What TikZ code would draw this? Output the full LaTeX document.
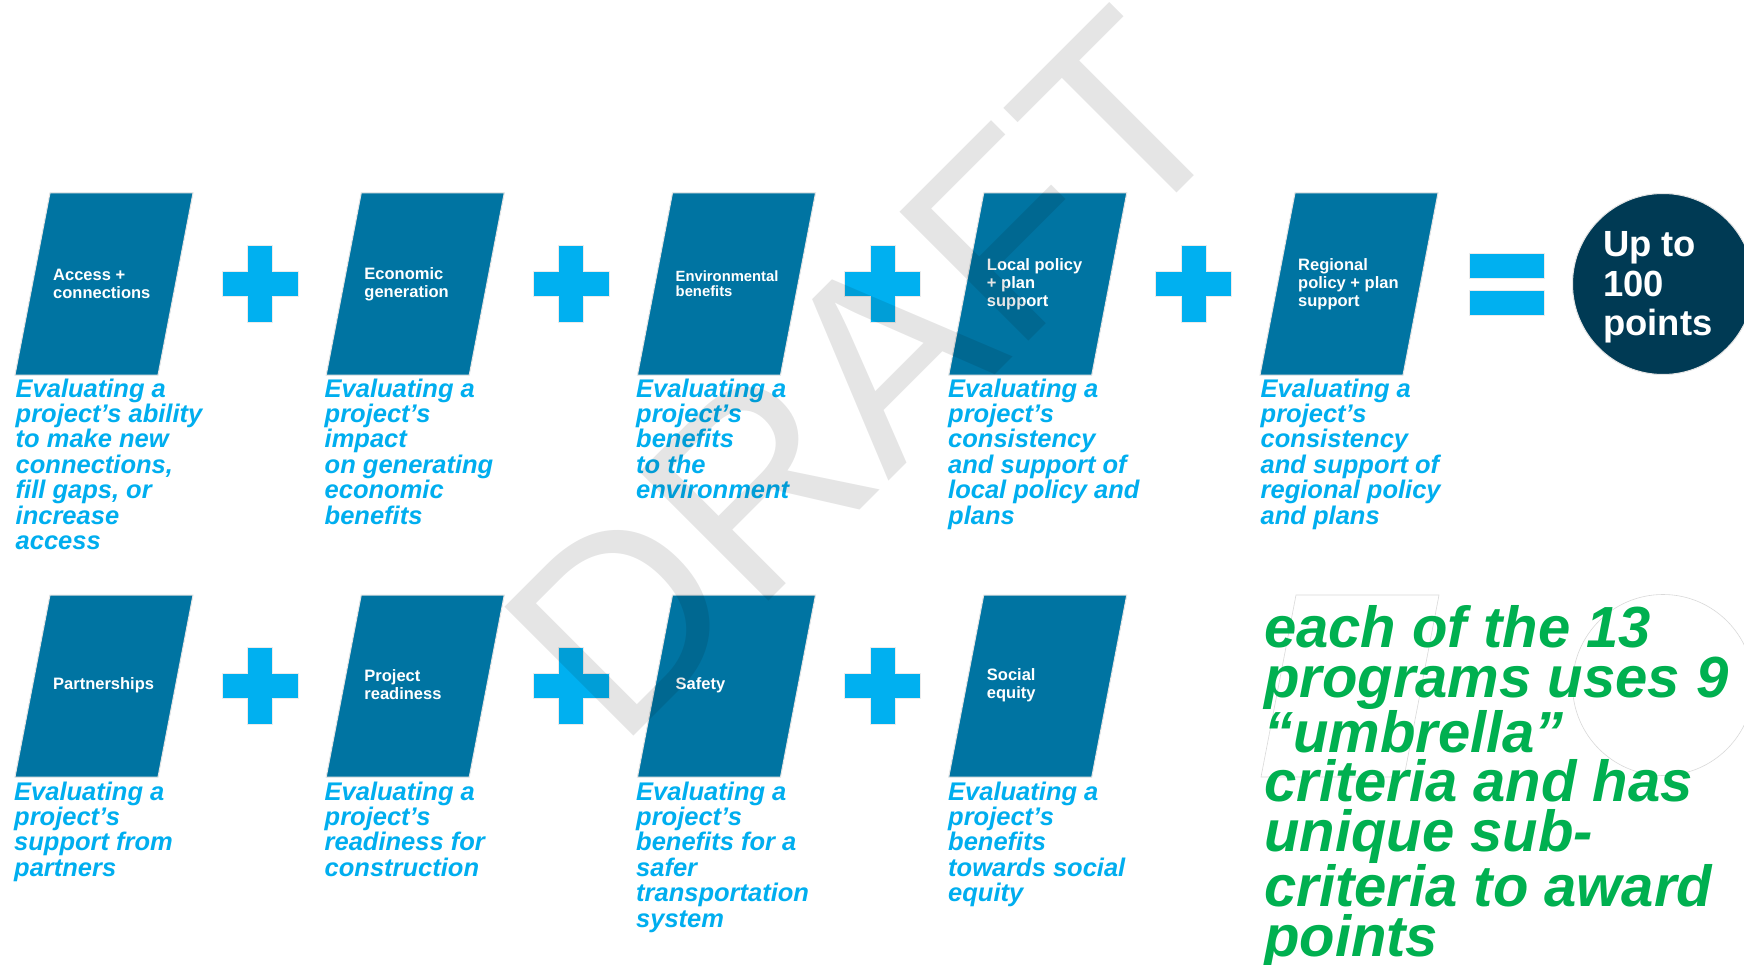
\documentclass[tikz,border=0pt]{standalone}
\usepackage{fontspec}
\setmainfont{Liberation Sans}
\definecolor{boxblue}{RGB}{0,116,162}
\definecolor{plusblue}{RGB}{0,176,240}
\definecolor{textblue}{RGB}{0,174,239}
\definecolor{navy}{RGB}{0,58,84}
\definecolor{greentxt}{RGB}{0,176,80}
\newcommand\fsz[2]{\fontsize{#1}{#2}\selectfont}
\newcommand\plusshape[2]{%
  \path[opshape,shift={(#1,#2)}] (-12.5,-38.5) -- (12.5,-38.5) -- (12.5,-12.5) -- (38,-12.5)
    -- (38,12.5) -- (12.5,12.5) -- (12.5,38.5) -- (-12.5,38.5) -- (-12.5,12.5) -- (-38,12.5)
    -- (-38,-12.5) -- (-12.5,-12.5) -- cycle;}
\newcommand\critshape[2]{%
  \path[crit] (#1,#2) -- ++(143,0) -- ++(-35,182) -- ++(-143,0) -- cycle;}
\begin{document}
\begin{tikzpicture}[x=1pt,y=-1pt,
  crit/.style={fill=boxblue,draw=black!10,line width=1pt},
  opshape/.style={fill=plusblue,draw=black!8,line width=0.6pt},
  lbl/.style={anchor=west,align=left,text=white,inner sep=0pt,font=\bfseries\fsz{16.5}{18}},
  desc/.style={anchor=base west,align=left,text=textblue,inner sep=0pt,font=\bfseries\itshape\fsz{25.5}{25.4}},
  ghost/.style={draw=black!15,line width=0.6pt}
]
\useasboundingbox (0,0) rectangle (1744,965);
\fill[white] (0,0) rectangle (1744,965);
% ghost shapes behind the green note
\draw[ghost] (1296,595) -- ++(143,0) -- ++(-35,182) -- ++(-143,0) -- cycle;
\draw[ghost] (1663,685) circle[radius=90.5];
% criteria boxes
\critshape{50}{193}
\critshape{361.25}{193}
\critshape{672.5}{193}
\critshape{983.75}{193}
\critshape{1295}{193}
\critshape{50}{595}
\critshape{361.25}{595}
\critshape{672.5}{595}
\critshape{983.75}{595}
% plus signs
\plusshape{260}{284}
\plusshape{571.25}{284}
\plusshape{882.5}{284}
\plusshape{1193.75}{284}
\plusshape{260}{685.5}
\plusshape{571.25}{685.5}
\plusshape{882.5}{685.5}
% equals sign
\path[opshape] (1469,253) rectangle (1544,278);
\path[opshape] (1469,290) rectangle (1544,315);
% score circle
\node[circle,fill=navy,draw=black!10,line width=1pt,minimum size=181pt,inner sep=0pt] (score) at (1663,284) {};
\node[anchor=base west,align=left,text=white,inner sep=0pt,font=\bfseries\fsz{36.4}{39}] (scoretxt) at (1603,335) {Up to\\100\\points};
% box labels
\node[lbl] (l1) at (53,284) {Access +\\connections};
\node[lbl] (l2) at (364.25,284) {Economic\\generation};
\node[lbl,font=\bfseries\fsz{14.8}{15}] (l3) at (675.5,284) {Environmental\\benefits};
\node[lbl] (l4) at (986.75,284) {Local policy\\+ plan\\support};
\node[lbl] (l5) at (1298,284) {Regional\\policy + plan\\support};
\node[lbl] (l6) at (53,685) {Partnerships};
\node[lbl] (l7) at (364.25,685) {Project\\readiness};
\node[lbl] (l8) at (675.5,685) {Safety};
\node[lbl] (l9) at (986.75,685) {Social\\equity};
% descriptions (anchored at the baseline of their last line)
\node[desc] (d1) at (15.5,549.4) {Evaluating a\\project’s ability\\to make new\\connections,\\fill gaps, or\\increase\\access};
\node[desc] (d2) at (324.5,524) {Evaluating a\\project’s\\impact\\on generating\\economic\\benefits};
\node[desc] (d3) at (636,498.6) {Evaluating a\\project’s\\benefits\\to the\\environment};
\node[desc] (d4) at (948,524) {Evaluating a\\project’s\\consistency\\and support of\\local policy and\\plans};
\node[desc] (d5) at (1260.5,524) {Evaluating a\\project’s\\consistency\\and support of\\regional policy\\and plans};
\node[desc] (d6) at (14,876.2) {Evaluating a\\project’s\\support from\\partners};
\node[desc] (d7) at (324.5,876.2) {Evaluating a\\project’s\\readiness for\\construction};
\node[desc] (d8) at (636,927) {Evaluating a\\project’s\\benefits for a\\safer\\transportation\\system};
\node[desc] (d9) at (948,901.6) {Evaluating a\\project’s\\benefits\\towards social\\equity};
% green note
\node[anchor=base west,align=left,text=greentxt,inner sep=0pt,font=\bfseries\itshape\fsz{58}{49.5}] (note) at (1264,956) {each of the 13\\programs uses 9\\“umbrella”\\criteria and has\\unique sub-\\criteria to award\\points};
% watermark
\node[rotate=45,anchor=base west,inner sep=0pt,font=\fsz{265}{265},text=black,text opacity=0.1] (draft) at (618,752) {DRAFT};
\end{tikzpicture}
\end{document}
